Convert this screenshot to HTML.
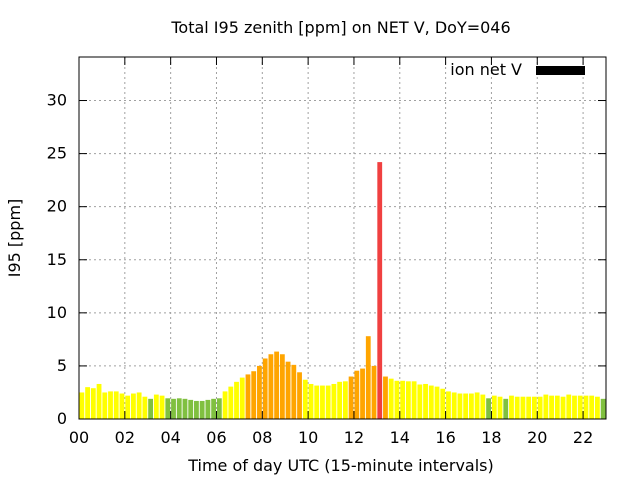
<!DOCTYPE html>
<html><head><meta charset="utf-8"><style>body{margin:0;background:#fff}svg{display:block;font-family:"DejaVu Sans","Liberation Sans",sans-serif}</style></head>
<body>
<svg id="chart" width="640" height="480" xmlns="http://www.w3.org/2000/svg">
<text x="341" y="33" text-anchor="middle" font-size="16">Total I95 zenith [ppm] on NET V, DoY=046</text>
<g id="grid"></g><g id="bars"></g><g id="axes"></g>
<text transform="translate(20,238) rotate(-90)" text-anchor="middle" font-size="16">I95 [ppm]</text>
<text x="341" y="471" text-anchor="middle" font-size="16">Time of day UTC (15-minute intervals)</text>
<g><text x="522" y="75" text-anchor="end" font-size="16">ion net V</text><rect x="536" y="66" width="49" height="9" fill="#000"/></g>
</svg>
<script>
const values=[2.5,3.0,2.9,3.3,2.5,2.6,2.6,2.4,2.2,2.4,2.5,2.1,1.9,2.3,2.2,1.95,1.9,1.95,1.9,1.8,1.7,1.7,1.8,1.9,1.95,2.6,3.05,3.5,3.9,4.2,4.5,5.0,5.7,6.1,6.35,6.1,5.4,5.1,4.4,3.7,3.3,3.15,3.15,3.15,3.3,3.5,3.55,4.0,4.55,4.75,7.8,5.0,24.2,4.0,3.8,3.6,3.6,3.55,3.55,3.25,3.3,3.15,3.05,2.85,2.6,2.5,2.4,2.4,2.4,2.5,2.3,1.95,2.2,2.1,1.9,2.2,2.1,2.1,2.1,2.1,2.1,2.3,2.2,2.2,2.1,2.3,2.2,2.2,2.2,2.2,2.1,1.9];
const yTicks=[0,5,10,15,20,25,30];
const xTicks=["00","02","04","06","08","10","12","14","16","18","20","22"];
const X0=79,X1=606,Y0=419,Y1=57,XMAX=23,YMAX=34.1;
const sx=h=>X0+(X1-X0)*h/XMAX, sy=v=>Y0-(Y0-Y1)*v/YMAX;
const NS="http://www.w3.org/2000/svg";
function mk(p,t,a){const e=document.createElementNS(NS,t);for(const k in a)e.setAttribute(k,a[k]);p.appendChild(e);return e;}
const grid=document.getElementById('grid'),bars=document.getElementById('bars'),axes=document.getElementById('axes');
yTicks.forEach(v=>{const y=sy(v);
 if(v>0){const g=mk(grid,'line',{x1:X0,x2:X1,y1:y,y2:y,stroke:'#a0a0a0','stroke-dasharray':'2,3'});
 
 }
 mk(axes,'line',{x1:X0,x2:X0+8,y1:y,y2:y,stroke:'#000'});mk(axes,'line',{x1:X1,x2:X1-8,y1:y,y2:y,stroke:'#000'});
 const t=mk(axes,'text',{x:X0-12,y:y+5,'text-anchor':'end','font-size':16});t.textContent=v;
 
 });
xTicks.forEach(s=>{const x=sx(+s);
 if(+s>0){const g=mk(grid,'line',{x1:x,x2:x,y1:Y0,y2:Y1,stroke:'#a0a0a0','stroke-dasharray':'2,3'});
 
 }
 mk(axes,'line',{x1:x,x2:x,y1:Y0,y2:Y0-8,stroke:'#000'});mk(axes,'line',{x1:x,x2:x,y1:Y1,y2:Y1+8,stroke:'#000'});
 const t=mk(axes,'text',{x:x,y:Y0+24,'text-anchor':'middle','font-size':16});t.textContent=s;
 
 });
const step=(X1-X0)/values.length;
values.forEach((v,i)=>{const c=v<2?'#80c040':v<4?'#ffff00':v<10?'#ffa500':'#f04040';
 const x=sx((i+0.5)*0.25)-step*0.42,y=sy(v);
 const r=mk(bars,'rect',{x:x,y:y,width:step*0.84,height:Y0-y,fill:c});
 
 });
const f=mk(axes,'rect',{x:X0,y:Y1,width:X1-X0,height:Y0-Y1,fill:'none',stroke:'#000'});


</script>
</body></html>
